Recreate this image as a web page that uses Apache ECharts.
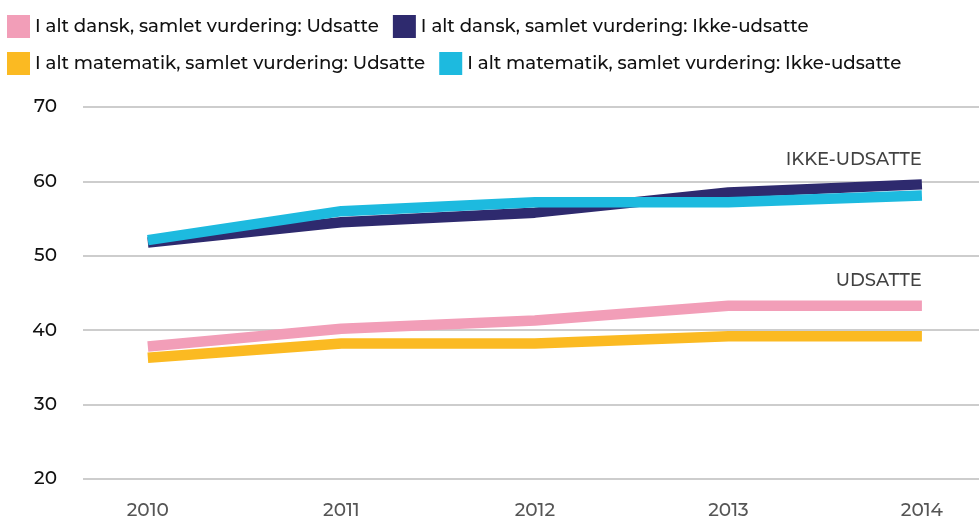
<!DOCTYPE html>
<html>
<head>
<meta charset="utf-8">
<script src="https://cdn.jsdelivr.net/npm/echarts@6/dist/echarts.min.js"></script>
<style>
  html, body { margin: 0; padding: 0; background: #fff; }
  #chart { width: 979px; height: 520px; }
</style>
</head>
<body>
<div id="chart"></div>
<script>
// Years on the horizontal axis
const years = [2010, 2011, 2012, 2013, 2014];

// Average assessment scores per group
const danskUdsatte = [37.8, 40.2, 41.3, 43.3, 43.3];
const danskIkkeUdsatte = [51.8, 54.5, 55.8, 58.5, 59.6];
const matUdsatte = [36.3, 38.2, 38.2, 39.2, 39.2];
const matIkkeUdsatte = [52.1, 56.0, 57.2, 57.2, 58.1];

const seriesNames = [
  'I alt dansk, samlet vurdering: Udsatte',
  'I alt dansk, samlet vurdering: Ikke-udsatte',
  'I alt matematik, samlet vurdering: Udsatte',
  'I alt matematik, samlet vurdering: Ikke-udsatte'
];
const seriesColors = ['#F29EB8', '#2E2A6E', '#FBBA22', '#1DBADF'];
const seriesValues = [danskUdsatte, danskIkkeUdsatte, matUdsatte, matIkkeUdsatte];

// Group labels placed next to the line ends
const groupLabels = [
  { text: 'IKKE-UDSATTE', year: 2014, value: 62.9 },
  { text: 'UDSATTE', year: 2014, value: 46.7 }
];

const yTicks = [20, 30, 40, 50, 60, 70];

const FONT = '"Montserrat", "Open Sans", "Noto Sans", sans-serif';

const chart = echarts.init(document.getElementById('chart'), null, { renderer: 'canvas' });

const series = seriesNames.map((name, i) => ({
  name,
  type: 'line',
  data: years.map((y, j) => [y, seriesValues[i][j]]),
  symbol: 'none',
  smooth: false,
  lineStyle: { width: 10.5, color: seriesColors[i], cap: 'butt', join: 'round' },
  itemStyle: { color: seriesColors[i] },
  z: 2 + i,
  silent: true
}));

// Text annotations attached to the data coordinates
series.push({
  name: 'labels',
  type: 'scatter',
  data: groupLabels.map(g => ({ value: [g.year, g.value], name: g.text })),
  symbolSize: 0,
  silent: true,
  label: {
    show: true,
    position: 'left',
    distance: 0,
    formatter: p => p.name,
    color: '#111',
    fontFamily: FONT,
    fontWeight: 500,
    fontSize: 18,
    align: 'right',
    verticalAlign: 'middle'
  },
  z: 10
});

chart.setOption({
  backgroundColor: '#fff',
  animation: false,
  textStyle: { fontFamily: FONT },
  legend: {
    data: seriesNames,
    left: 7,
    right: 0,
    top: 15,
    padding: 0,
    itemWidth: 23,
    itemHeight: 23,
    itemGap: 14,
    icon: 'rect',
    selectedMode: false,
    textStyle: { fontFamily: FONT, fontSize: 18.2, fontWeight: 500, color: '#111', padding: [0, 0, 0, 0] }
  },
  grid: { left: 83, right: 0, top: 107, bottom: 40, containLabel: false },
  xAxis: {
    type: 'value',
    min: 2009.665,
    max: 2014.295,
    axisLine: { show: false },
    axisTick: { show: false },
    splitLine: { show: false },
    axisLabel: {
      customValues: years,
      formatter: v => String(v),
      color: '#555',
      fontSize: 18.5,
      fontWeight: 500,
      fontFamily: FONT,
      margin: 22
    }
  },
  yAxis: {
    type: 'value',
    min: yTicks[0],
    max: yTicks[yTicks.length - 1],
    interval: 10,
    axisLine: { show: false },
    axisTick: { show: false },
    axisLabel: { color: '#111', fontSize: 18.5, fontWeight: 500, fontFamily: FONT, margin: 26 },
    splitLine: { lineStyle: { color: '#BDBDBD', width: 1.5 } }
  },
  series
});
</script>
</body>
</html>
